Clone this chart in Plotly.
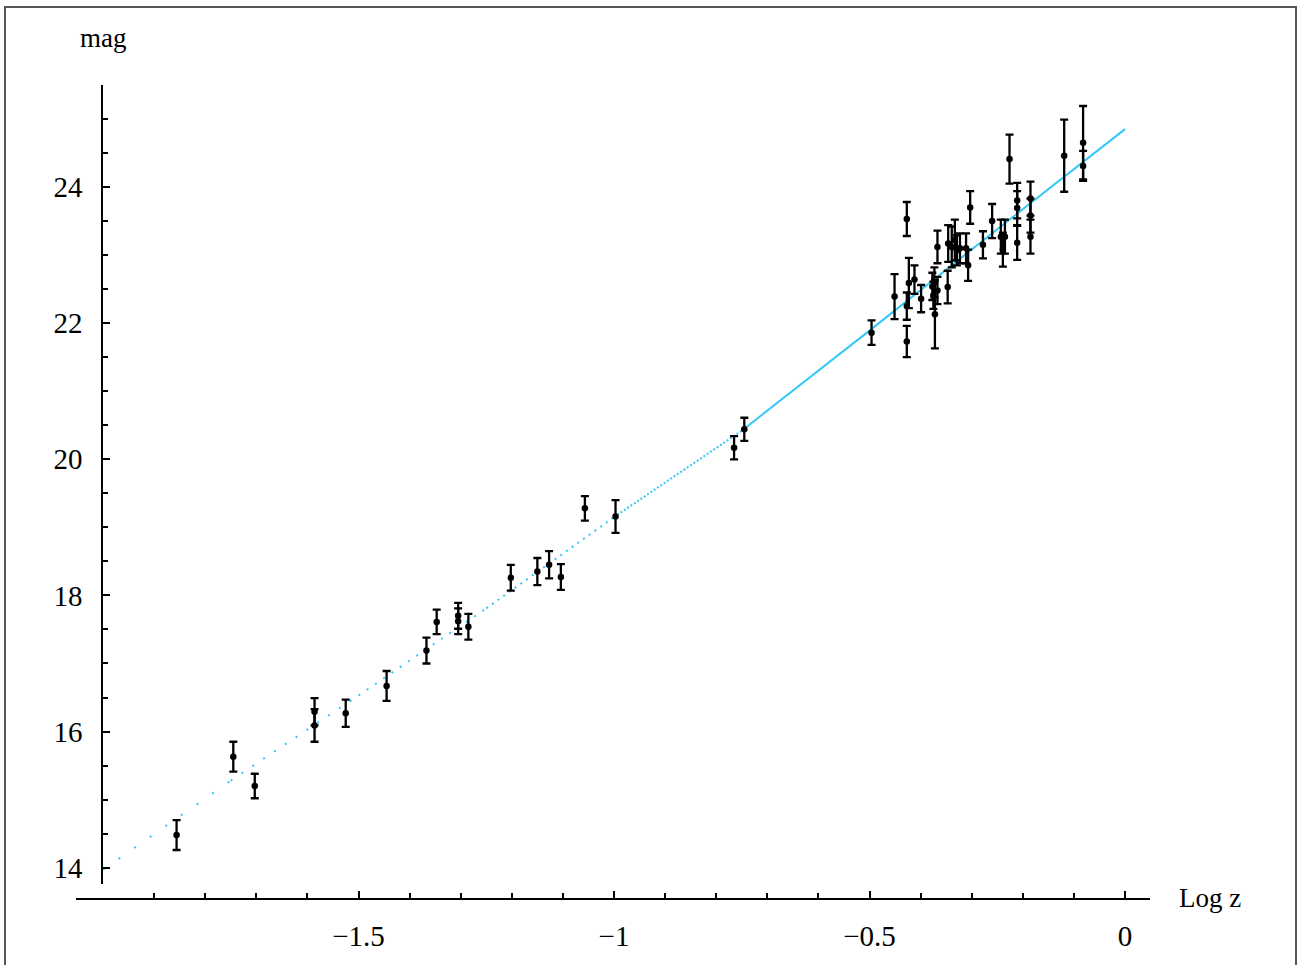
import plotly.graph_objects as go

# ---- data ----
logz_obs = [-1.856, -1.745, -1.703, -1.586, -1.586, -1.525, -1.445, -1.367, -1.347,
            -1.305, -1.305, -1.285, -1.202, -1.150, -1.127, -1.104, -1.057, -0.997,
            -0.765, -0.745,
            -0.496, -0.451, -0.427, -0.427, -0.427, -0.423, -0.412, -0.399, -0.377,
            -0.373, -0.375, -0.367, -0.372, -0.367, -0.347, -0.346, -0.339, -0.333,
            -0.329, -0.323, -0.311, -0.307, -0.303, -0.278, -0.260, -0.243, -0.235,
            -0.239, -0.226, -0.211, -0.211, -0.211, -0.185, -0.185, -0.185, -0.119,
            -0.082, -0.082]
mag_obs = [14.48, 15.63, 15.20, 16.29, 16.09, 16.27, 16.67, 17.19, 17.61,
           17.70, 17.62, 17.54, 18.26, 18.35, 18.45, 18.27, 19.28, 19.16,
           20.17, 20.44,
           21.86, 22.39, 23.53, 21.73, 22.25, 22.59, 22.64, 22.36, 22.54,
           22.60, 22.41, 22.48, 22.13, 23.12, 22.53, 23.17, 23.12, 23.22,
           23.07, 23.10, 23.10, 22.85, 23.70, 23.15, 23.50, 23.27, 23.27,
           23.08, 24.41, 23.80, 23.69, 23.18, 23.83, 23.58, 23.27, 24.46,
           24.65, 24.31]
mag_err = [0.22, 0.22, 0.18, 0.20, 0.24, 0.20, 0.22, 0.19, 0.18,
           0.19, 0.19, 0.19, 0.19, 0.20, 0.20, 0.19, 0.18, 0.24,
           0.17, 0.17,
           0.18, 0.33, 0.25, 0.23, 0.20, 0.37, 0.21, 0.20, 0.20,
           0.22, 0.20, 0.20, 0.50, 0.24, 0.24, 0.27, 0.30, 0.30,
           0.22, 0.22, 0.22, 0.23, 0.24, 0.20, 0.25, 0.25, 0.25,
           0.25, 0.36, 0.26, 0.25, 0.25, 0.25, 0.25, 0.25, 0.53,
           0.54, 0.22]

curve_logz = [-2.0, -1.75, -1.5, -1.25, -1.0, -0.75, -0.5, -0.25, 0.0]
curve_mag = [13.97, 15.28, 16.53, 17.81, 19.15, 20.42, 21.89, 23.38, 24.85]

x_major = [-1.5, -1.0, -0.5, 0.0]
x_major_text = ["\u22121.5", "\u22121", "\u22120.5", "0"]
x_minor = [-1.9, -1.8, -1.7, -1.6, -1.4, -1.3, -1.2, -1.1,
           -0.9, -0.8, -0.7, -0.6, -0.4, -0.3, -0.2, -0.1]
y_major = [14, 16, 18, 20, 22, 24]

# ---- layout geometry (pixels) ----
W, H = 1302, 965
X_PX0, X_PX1 = 76, 1150          # x-axis line extent
Y_PX_AXIS = 899                  # x-axis line vertical position
Y_PX0, Y_PX1 = 884, 85           # y-axis line extent (bottom, top)
X_PX_AXIS = 102                  # y-axis line horizontal position
PX_PER_X = 511.0
X_ZERO_PX = 1125.0
PX_PER_MAG = 68.07
MAG24_PX = 187.0

def px_to_x(px):
    return (px - X_ZERO_PX) / PX_PER_X

def py_to_mag(py):
    return 24 - (py - MAG24_PX) / PX_PER_MAG

FONT = "Liberation Serif, serif"
CURVE_COLOR = "#33c8f5"

fig = go.Figure()

# model curve: sparse dots at low z becoming solid at high z
segments = [(0, 1, "2px,17px"), (1, 2, "2px,11px"), (2, 3, "2px,8px"),
            (3, 4, "2px,5px"), (4, 5, "2px,2px"), (5, 8, "solid")]
for i0, i1, dash in segments:
    fig.add_trace(go.Scatter(
        x=curve_logz[i0:i1 + 1], y=curve_mag[i0:i1 + 1], mode="lines",
        line=dict(color=CURVE_COLOR, width=2, dash=dash),
        showlegend=False, hoverinfo="skip"))

fig.add_trace(go.Scatter(
    x=logz_obs, y=mag_obs, mode="markers",
    marker=dict(color="black", size=6.5),
    error_y=dict(type="data", array=mag_err, visible=True,
                 color="black", thickness=2.3, width=4),
    showlegend=False))

fig.update_layout(
    width=W, height=H, autosize=False,
    margin=dict(l=0, r=0, t=0, b=0),
    paper_bgcolor="white", plot_bgcolor="white",
    font=dict(family=FONT, color="black", size=29),
    xaxis=dict(
        domain=[X_PX0 / W, X_PX1 / W],
        range=[px_to_x(X_PX0), px_to_x(X_PX1)],
        anchor="free", position=(H - Y_PX_AXIS) / H,
        showline=True, linecolor="black", linewidth=1.6,
        showgrid=False, zeroline=False,
        ticks="inside", ticklen=7, tickwidth=1.6, tickcolor="black",
        tickvals=x_major, ticktext=x_major_text,
        ticklabelstandoff=11,
        tickfont=dict(family=FONT, size=29),
        minor=dict(tickvals=x_minor, ticks="inside", ticklen=5,
                   tickwidth=1.6, tickcolor="black", showgrid=False),
    ),
    yaxis=dict(
        domain=[(H - Y_PX0) / H, (H - Y_PX1) / H],
        range=[py_to_mag(Y_PX0), py_to_mag(Y_PX1)],
        anchor="free", position=X_PX_AXIS / W,
        showline=True, linecolor="black", linewidth=1.6,
        showgrid=False, zeroline=False,
        ticks="inside", ticklen=7, tickwidth=1.6, tickcolor="black",
        tickvals=y_major,
        ticklabelstandoff=13,
        tickfont=dict(family=FONT, size=29),
        minor=dict(dtick=0.5, ticks="inside", ticklen=5,
                   tickwidth=1.6, tickcolor="black", showgrid=False),
    ),
    annotations=[
        dict(text="mag", xref="paper", yref="paper", x=103 / W, y=1 - 38 / H,
             xanchor="center", yanchor="middle", showarrow=False,
             font=dict(family=FONT, size=27)),
        dict(text="Log z", xref="paper", yref="paper", x=1210 / W, y=1 - 898 / H,
             xanchor="center", yanchor="middle", showarrow=False,
             font=dict(family=FONT, size=27)),
    ],
    shapes=[
        dict(type="path", xref="paper", yref="paper",
             path=f"M {5 / W},0 L {5 / W},{1 - 7 / H} L {1296 / W},{1 - 7 / H} L {1296 / W},0",
             line=dict(color="#555555", width=2)),
    ],
)

fig.write_html("out.html",
               config={"displayModeBar": False},
               post_script="document.body.style.margin='0';document.body.style.padding='0';")
